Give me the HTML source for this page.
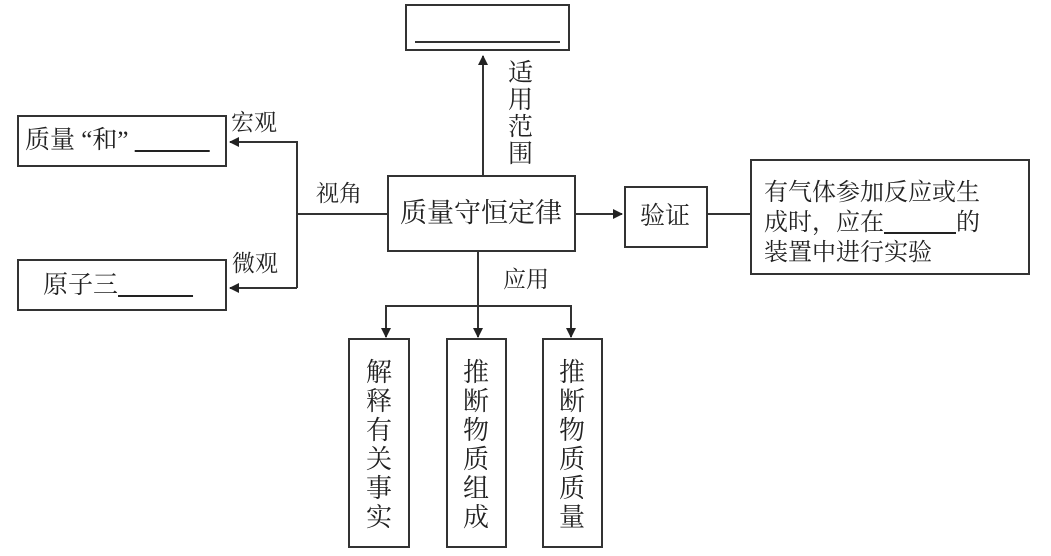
<!DOCTYPE html>
<html><head><meta charset="utf-8"><style>
html,body{margin:0;padding:0;background:#fff;}
body{width:1051px;height:556px;overflow:hidden;position:relative;font-family:"Liberation Serif","Noto Serif CJK SC","Noto Sans CJK SC",serif;color:#222;}
.t{position:absolute;white-space:nowrap;line-height:1;}
.v{position:absolute;font-size:26px;line-height:29px;width:27px;white-space:normal;}
</style></head><body>
<svg width="1051" height="556" style="position:absolute;left:0;top:0" xmlns="http://www.w3.org/2000/svg">
<defs><marker id="a" markerWidth="10" markerHeight="10" refX="9" refY="5" orient="auto" markerUnits="userSpaceOnUse"><path d="M0,0 L10,5 L0,10 z" fill="#222"/></marker></defs>
<g fill="none" stroke="#333" stroke-width="2">
<rect x="406" y="5" width="163" height="45"/>
<line x1="415" y1="42" x2="560" y2="42"/>
<rect x="18" y="116" width="208" height="50"/>
<rect x="18" y="260" width="208" height="50"/>
<rect x="388" y="176" width="187" height="75"/>
<rect x="625" y="187" width="82" height="60"/>
<rect x="751" y="160" width="278" height="114"/>
<rect x="349" y="339" width="60" height="208"/>
<rect x="447" y="339" width="59" height="208"/>
<rect x="543" y="339" width="59" height="208"/>
<line x1="483" y1="176" x2="483" y2="56" marker-end="url(#a)"/>
<line x1="388" y1="214" x2="297" y2="214"/>
<polyline points="297,288 297,142 230,142" marker-end="url(#a)"/>
<polyline points="297,288 230,288" marker-end="url(#a)"/>
<line x1="575" y1="214" x2="622" y2="214" marker-end="url(#a)"/>
<line x1="707" y1="214" x2="751" y2="214"/>
<line x1="478" y1="251" x2="478" y2="337" marker-end="url(#a)"/>
<polyline points="386,337 386,306 571,306 571,337" />
<line x1="386" y1="320" x2="386" y2="337" marker-end="url(#a)"/>
<line x1="571" y1="320" x2="571" y2="337" marker-end="url(#a)"/>
</g>
</svg>
<div class="t" style="left:25px;top:128px;font-size:25px;">质量 “和” <span style="text-decoration:underline">　　　</span></div>
<div class="t" style="left:43px;top:273px;font-size:25px;">原子三<span style="text-decoration:underline">　　　</span></div>
<div class="t" style="left:231px;top:111px;font-size:23px;">宏观</div>
<div class="t" style="left:316px;top:182px;font-size:23px;">视角</div>
<div class="t" style="left:232px;top:252px;font-size:23px;">微观</div>
<div class="t" style="left:400px;top:200px;font-size:27px;">质量守恒定律</div>
<div class="t" style="left:508px;top:60px;font-size:25px;line-height:27px;white-space:normal;width:26px;">适用范围</div>
<div class="t" style="left:640px;top:204px;font-size:25px;">验证</div>
<div class="t" style="left:764px;top:178px;font-size:24px;line-height:30px;">有气体参加反应或生<br>成时，应在<span style="text-decoration:underline">　　　</span>的<br>装置中进行实验</div>
<div class="t" style="left:503px;top:268px;font-size:23px;">应用</div>
<div class="v" style="left:366px;top:358px;">解释有关事实</div>
<div class="v" style="left:463px;top:358px;">推断物质组成</div>
<div class="v" style="left:559px;top:358px;">推断物质质量</div>
</body></html>
